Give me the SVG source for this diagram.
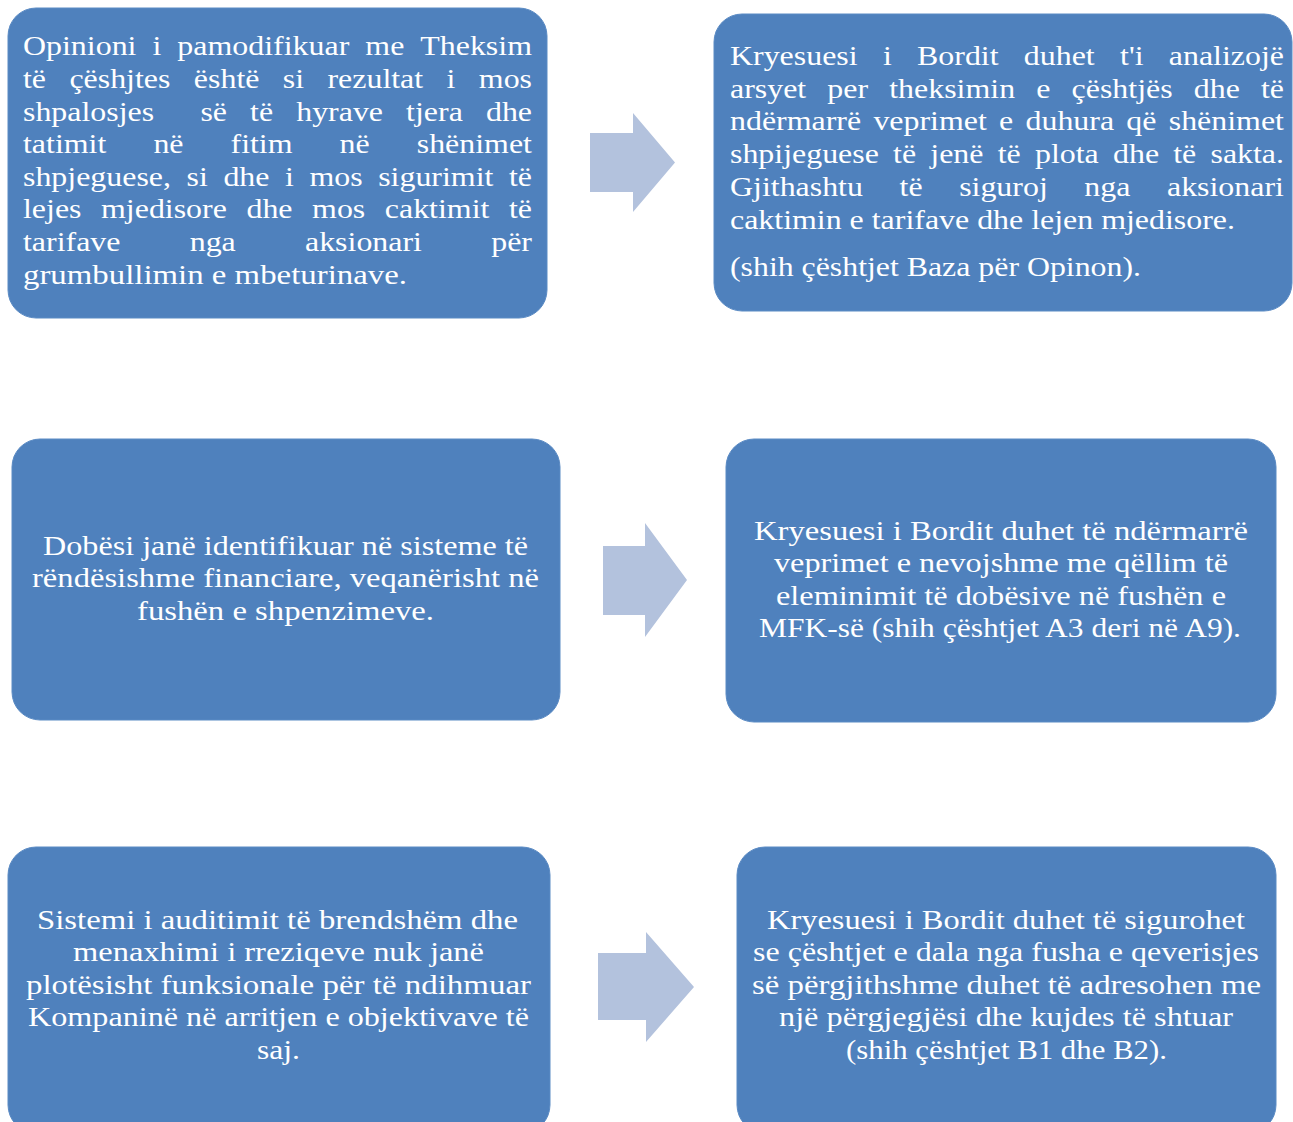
<svg xmlns="http://www.w3.org/2000/svg" width="1293" height="1122" viewBox="0 0 1293 1122">
<style>
.box{fill:#4f81bd;stroke:#5b8bc4;stroke-width:1}
.t{font-family:"Liberation Serif","Times New Roman",serif;font-size:28px;fill:#ffffff}
.c{text-anchor:middle}
.arrow{fill:#b3c2dd}
</style>
<rect width="1293" height="1122" fill="#ffffff"/>

<g id="node1">
<rect class="box" x="8" y="8" width="539" height="310" rx="28" ry="28"/>
<text class="t" transform="scale(1.14 1)">
<tspan y="55.5" x="20.18">Opinioni</tspan><tspan y="55.5" x="133.77">i</tspan><tspan y="55.5" x="155.57">pamodifikuar</tspan><tspan y="55.5" x="320.45">me</tspan><tspan y="55.5" x="368.69">Theksim</tspan>
<tspan y="88.1" x="20.18">të</tspan><tspan y="88.1" x="60.9">çëshjtes</tspan><tspan y="88.1" x="170.05">është</tspan><tspan y="88.1" x="248.09">si</tspan><tspan y="88.1" x="287.27">rezultat</tspan><tspan y="88.1" x="391.74">i</tspan><tspan y="88.1" x="420.02">mos</tspan>
<tspan y="120.7" x="20.18">shpalosjes</tspan><tspan y="120.7" x="175.78">së</tspan><tspan y="120.7" x="219.35">të</tspan><tspan y="120.7" x="259.82">hyrave</tspan><tspan y="120.7" x="356.26">tjera</tspan><tspan y="120.7" x="426.27">dhe</tspan>
<tspan y="153.3" x="20.18">tatimit</tspan><tspan y="153.3" x="134.55">në</tspan><tspan y="153.3" x="202.21">fitim</tspan><tspan y="153.3" x="297.9">në</tspan><tspan y="153.3" x="365.56">shënimet</tspan>
<tspan y="185.9" x="20.18">shpjeguese,</tspan><tspan y="185.9" x="163.66">si</tspan><tspan y="185.9" x="195.96">dhe</tspan><tspan y="185.9" x="250.01">i</tspan><tspan y="185.9" x="271.41">mos</tspan><tspan y="185.9" x="331.71">sigurimit</tspan><tspan y="185.9" x="446.47">të</tspan>
<tspan y="218.5" x="20.18">lejes</tspan><tspan y="218.5" x="88.63">mjedisore</tspan><tspan y="218.5" x="216.19">dhe</tspan><tspan y="218.5" x="273.75">mos</tspan><tspan y="218.5" x="337.56">caktimit</tspan><tspan y="218.5" x="446.47">të</tspan>
<tspan y="251.1" x="20.18">tarifave</tspan><tspan y="251.1" x="166.4">nga</tspan><tspan y="251.1" x="267.54">aksionari</tspan><tspan y="251.1" x="430.9">për</tspan>
</text>
<text class="t" transform="scale(1.14 1)" x="20.18" y="283.7" textLength="336.84" lengthAdjust="spacingAndGlyphs">grumbullimin e mbeturinave.</text>
</g>

<g id="node2">
<rect class="box" x="714" y="14" width="578" height="297" rx="28" ry="28"/>
<text class="t" transform="scale(1.14 1)">
<tspan y="65.3" x="640.35">Kryesuesi</tspan><tspan y="65.3" x="774.47">i</tspan><tspan y="65.3" x="804.4">Bordit</tspan><tspan y="65.3" x="898.12">duhet</tspan><tspan y="65.3" x="982.49">t'i</tspan><tspan y="65.3" x="1025.25">analizojë</tspan>
<tspan y="97.9" x="640.35">arsyet</tspan><tspan y="97.9" x="725.74">per</tspan><tspan y="97.9" x="780.03">theksimin</tspan><tspan y="97.9" x="909.02">e</tspan><tspan y="97.9" x="939.98">çështjës</tspan><tspan y="97.9" x="1047.16">dhe</tspan><tspan y="97.9" x="1106.12">të</tspan>
<tspan y="130.5" x="640.35">ndërmarrë</tspan><tspan y="130.5" x="766.13">veprimet</tspan><tspan y="130.5" x="876.4">e</tspan><tspan y="130.5" x="899.56">duhura</tspan><tspan y="130.5" x="988.05">që</tspan><tspan y="130.5" x="1025.21">shënimet</tspan>
<tspan y="163.1" x="640.35">shpijeguese</tspan><tspan y="163.1" x="783.44">të</tspan><tspan y="163.1" x="816.1">jenë</tspan><tspan y="163.1" x="875.19">të</tspan><tspan y="163.1" x="907.85">plota</tspan><tspan y="163.1" x="976.29">dhe</tspan><tspan y="163.1" x="1029.16">të</tspan><tspan y="163.1" x="1061.82">sakta.</tspan>
<tspan y="195.7" x="640.35">Gjithashtu</tspan><tspan y="195.7" x="789.08">të</tspan><tspan y="195.7" x="841.35">siguroj</tspan><tspan y="195.7" x="951.18">nga</tspan><tspan y="195.7" x="1023.66">aksionari</tspan>
</text>
<text class="t" transform="scale(1.14 1)" x="640.35" y="228.8" textLength="442.98" lengthAdjust="spacingAndGlyphs">caktimin e tarifave dhe lejen mjedisore.</text>
<text class="t" transform="scale(1.14 1)" x="640.35" y="276.5" textLength="360.53" lengthAdjust="spacingAndGlyphs">(shih çështjet Baza për Opinon).</text>
</g>

<g id="node3">
<rect class="box" x="12" y="439" width="548" height="281" rx="28" ry="28"/>
<text class="t c" x="285.5" y="554.5" textLength="485" lengthAdjust="spacingAndGlyphs">Dobësi janë identifikuar në sisteme të</text>
<text class="t c" x="285.5" y="587.1" textLength="507" lengthAdjust="spacingAndGlyphs">rëndësishme financiare, veqanërisht në</text>
<text class="t c" x="285.5" y="619.7" textLength="297" lengthAdjust="spacingAndGlyphs">fushën e shpenzimeve.</text>
</g>

<g id="node4">
<rect class="box" x="726" y="439" width="550" height="283" rx="28" ry="28"/>
<text class="t c" x="1001" y="539.5" textLength="494" lengthAdjust="spacingAndGlyphs">Kryesuesi i Bordit duhet të ndërmarrë</text>
<text class="t c" x="1001" y="572.1" textLength="454" lengthAdjust="spacingAndGlyphs">veprimet e nevojshme me qëllim të</text>
<text class="t c" x="1001" y="604.7" textLength="450" lengthAdjust="spacingAndGlyphs">eleminimit të dobësive në fushën e</text>
<text class="t c" x="1000" y="637.3" textLength="482" lengthAdjust="spacingAndGlyphs">MFK-së (shih çështjet A3 deri në A9).</text>
</g>

<g id="node5">
<rect class="box" x="8" y="847" width="542" height="286" rx="28" ry="28"/>
<text class="t c" x="277.5" y="928.5" textLength="481" lengthAdjust="spacingAndGlyphs">Sistemi i auditimit të brendshëm dhe</text>
<text class="t c" x="278.5" y="961.1" textLength="411" lengthAdjust="spacingAndGlyphs">menaxhimi i rreziqeve nuk janë</text>
<text class="t c" x="278.5" y="993.7" textLength="505" lengthAdjust="spacingAndGlyphs">plotësisht funksionale për të ndihmuar</text>
<text class="t c" x="278.5" y="1026.3" textLength="501" lengthAdjust="spacingAndGlyphs">Kompaninë në arritjen e objektivave të</text>
<text class="t c" x="278.5" y="1058.9" textLength="43" lengthAdjust="spacingAndGlyphs">saj.</text>
</g>

<g id="node6">
<rect class="box" x="737" y="847" width="539" height="286" rx="28" ry="28"/>
<text class="t c" x="1006" y="928.5" textLength="478" lengthAdjust="spacingAndGlyphs">Kryesuesi i Bordit duhet të sigurohet</text>
<text class="t c" x="1006" y="961.1" textLength="506" lengthAdjust="spacingAndGlyphs">se çështjet e dala nga fusha e qeverisjes</text>
<text class="t c" x="1006.5" y="993.7" textLength="509" lengthAdjust="spacingAndGlyphs">së përgjithshme duhet të adresohen me</text>
<text class="t c" x="1006" y="1026.3" textLength="454" lengthAdjust="spacingAndGlyphs">një përgjegjësi dhe kujdes të shtuar</text>
<text class="t c" x="1006.5" y="1058.9" textLength="321" lengthAdjust="spacingAndGlyphs">(shih çështjet B1 dhe B2).</text>
</g>

<g id="connectors">
<polygon class="arrow" points="590,133 633,133 633,113 675,162.5 633,212 633,192 590,192"/>
<polygon class="arrow" points="603,546 645,546 645,523 687,580 645,637 645,615 603,615"/>
<polygon class="arrow" points="598,953 646,953 646,932 694,987 646,1042 646,1020 598,1020"/>
</g>
</svg>
